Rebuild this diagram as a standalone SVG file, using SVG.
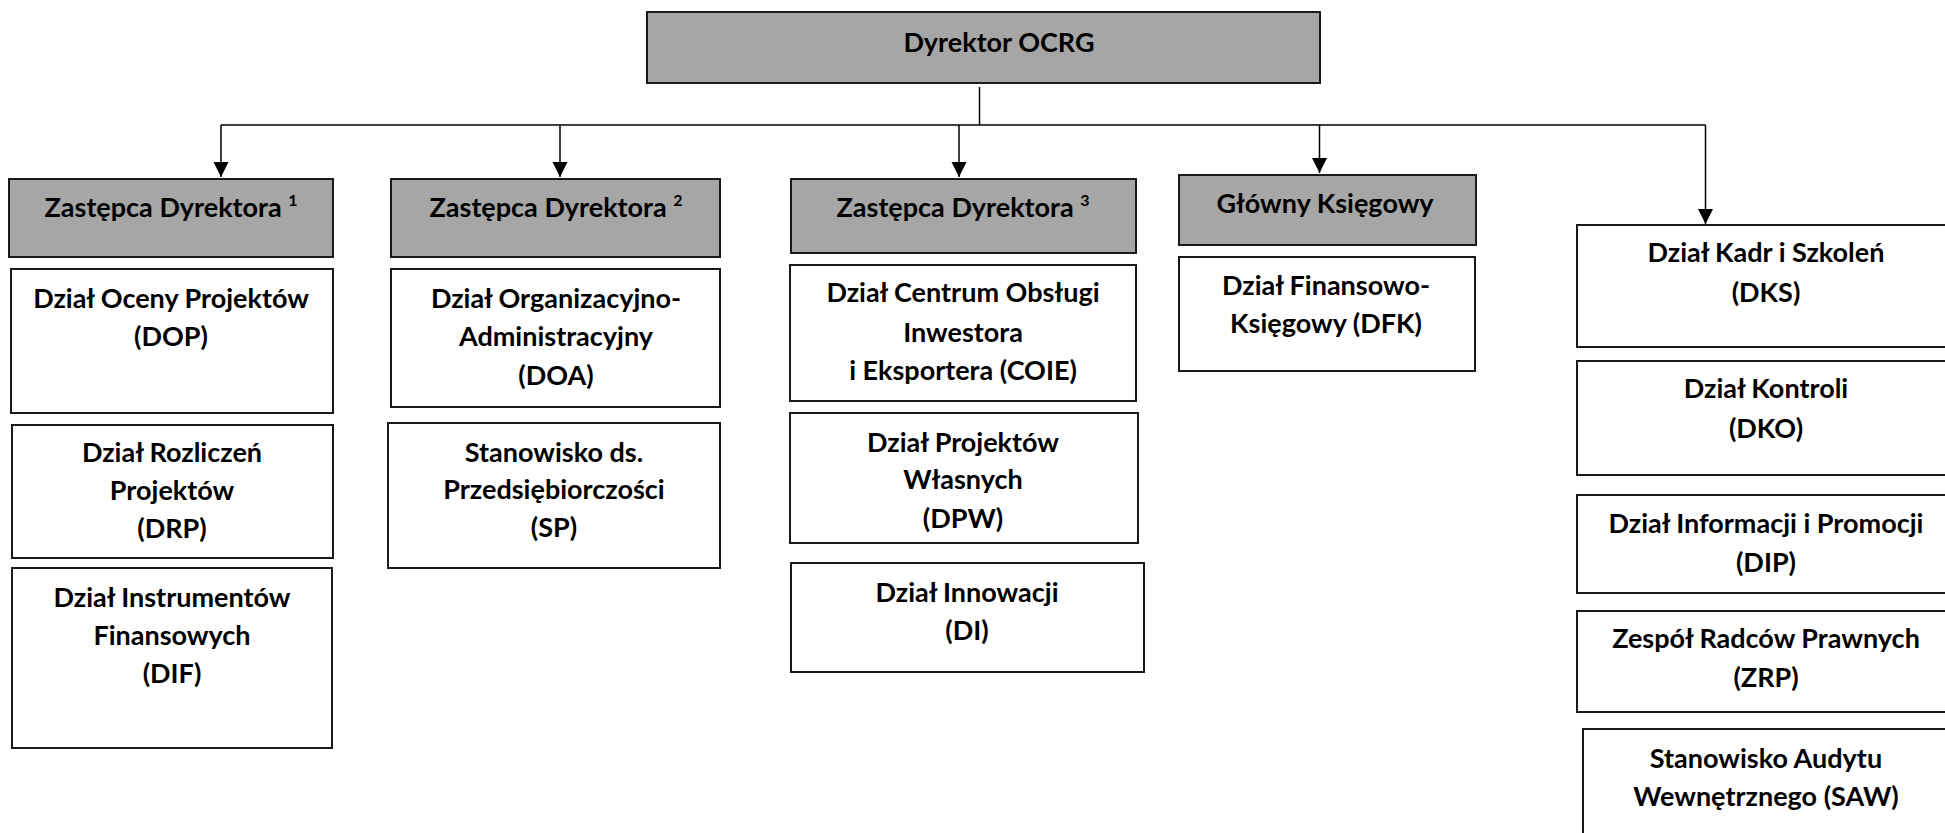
<svg xmlns="http://www.w3.org/2000/svg" width="1945" height="833" viewBox="0 0 1945 833">
<defs>
<marker id="arr" markerWidth="16" markerHeight="16" refX="15" refY="7.5" orient="auto" markerUnits="userSpaceOnUse">
<path d="M0,0 L15,7.5 L0,15 Z" fill="#000"/>
</marker>
<style>
.box{fill:#ffffff;stroke:#1a1a1a;stroke-width:2}
.head{fill:#a6a6a6;stroke:#1a1a1a;stroke-width:2}
.t{font-family:Lato,"Liberation Sans",sans-serif;font-weight:bold;font-size:27px;fill:#000;text-anchor:middle}
.sup{font-size:16px}
.c{stroke:#000;stroke-width:1.5;fill:none}
</style>
</defs>
<rect width="1945" height="833" fill="#fff"/>
<g id="connectors">
<line class="c" x1="979.5" y1="87" x2="979.5" y2="125"/>
<line class="c" x1="221" y1="125" x2="1705.5" y2="125"/>
<line class="c" x1="221" y1="125" x2="221" y2="177" marker-end="url(#arr)"/>
<line class="c" x1="560" y1="125" x2="560" y2="177" marker-end="url(#arr)"/>
<line class="c" x1="959" y1="125" x2="959" y2="177" marker-end="url(#arr)"/>
<line class="c" x1="1319.5" y1="125" x2="1319.5" y2="173" marker-end="url(#arr)"/>
<line class="c" x1="1705.5" y1="125" x2="1705.5" y2="224" marker-end="url(#arr)"/>
</g>
<g id="dyrektor">
<rect class="head" x="647" y="12" width="673" height="71"/>
<text class="t" x="999" y="52">Dyrektor OCRG</text>
</g>
<g id="zd1">
<rect class="head" x="9" y="179" width="324" height="78"/>
<text class="t" x="171" y="217">Zastępca Dyrektora <tspan class="sup" dy="-11">1</tspan></text>
</g>
<g id="zd2">
<rect class="head" x="391" y="179" width="329" height="78"/>
<text class="t" x="556" y="217">Zastępca Dyrektora <tspan class="sup" dy="-11">2</tspan></text>
</g>
<g id="zd3">
<rect class="head" x="791" y="179" width="345" height="74"/>
<text class="t" x="963" y="217">Zastępca Dyrektora <tspan class="sup" dy="-11">3</tspan></text>
</g>
<g id="gk">
<rect class="head" x="1179" y="175" width="297" height="70"/>
<text class="t" x="1325" y="213">Główny Księgowy</text>
</g>
<g id="dop">
<rect class="box" x="11" y="269" width="322" height="144"/>
<text class="t" x="171" y="308">Dział Oceny Projektów</text>
<text class="t" x="171" y="346">(DOP)</text>
</g>
<g id="drp">
<rect class="box" x="12" y="425" width="321" height="133"/>
<text class="t" x="172" y="462">Dział Rozliczeń</text>
<text class="t" x="172" y="500">Projektów</text>
<text class="t" x="172" y="538">(DRP)</text>
</g>
<g id="dif">
<rect class="box" x="12" y="568" width="320" height="180"/>
<text class="t" x="172" y="607">Dział Instrumentów</text>
<text class="t" x="172" y="645">Finansowych</text>
<text class="t" x="172" y="683">(DIF)</text>
</g>
<g id="doa">
<rect class="box" x="391" y="269" width="329" height="138"/>
<text class="t" x="556" y="308">Dział Organizacyjno-</text>
<text class="t" x="556" y="346">Administracyjny</text>
<text class="t" x="556" y="385">(DOA)</text>
</g>
<g id="sp">
<rect class="box" x="388" y="423" width="332" height="145"/>
<text class="t" x="554" y="462">Stanowisko ds.</text>
<text class="t" x="554" y="499">Przedsiębiorczości</text>
<text class="t" x="554" y="537">(SP)</text>
</g>
<g id="coie">
<rect class="box" x="790" y="265" width="346" height="136"/>
<text class="t" x="963" y="302">Dział Centrum Obsługi</text>
<text class="t" x="963" y="342">Inwestora</text>
<text class="t" x="963" y="380">i Eksportera (COIE)</text>
</g>
<g id="dpw">
<rect class="box" x="790" y="413" width="348" height="130"/>
<text class="t" x="963" y="452">Dział Projektów</text>
<text class="t" x="963" y="489">Własnych</text>
<text class="t" x="963" y="528">(DPW)</text>
</g>
<g id="di">
<rect class="box" x="791" y="563" width="353" height="109"/>
<text class="t" x="967" y="602">Dział Innowacji</text>
<text class="t" x="967" y="640">(DI)</text>
</g>
<g id="dfk">
<rect class="box" x="1179" y="257" width="296" height="114"/>
<text class="t" x="1326" y="295">Dział Finansowo-</text>
<text class="t" x="1326" y="333">Księgowy (DFK)</text>
</g>
<g id="dks">
<rect class="box" x="1577" y="225" width="380" height="122"/>
<text class="t" x="1766" y="262">Dział Kadr i Szkoleń</text>
<text class="t" x="1766" y="302">(DKS)</text>
</g>
<g id="dko">
<rect class="box" x="1577" y="361" width="380" height="114"/>
<text class="t" x="1766" y="398">Dział Kontroli</text>
<text class="t" x="1766" y="438">(DKO)</text>
</g>
<g id="dip">
<rect class="box" x="1577" y="495" width="380" height="98"/>
<text class="t" x="1766" y="533">Dział Informacji i Promocji</text>
<text class="t" x="1766" y="572">(DIP)</text>
</g>
<g id="zrp">
<rect class="box" x="1577" y="611" width="380" height="101"/>
<text class="t" x="1766" y="648">Zespół Radców Prawnych</text>
<text class="t" x="1766" y="687">(ZRP)</text>
</g>
<g id="saw">
<rect class="box" x="1583" y="729" width="380" height="120"/>
<text class="t" x="1766" y="768">Stanowisko Audytu</text>
<text class="t" x="1766" y="806">Wewnętrznego (SAW)</text>
</g>
</svg>
